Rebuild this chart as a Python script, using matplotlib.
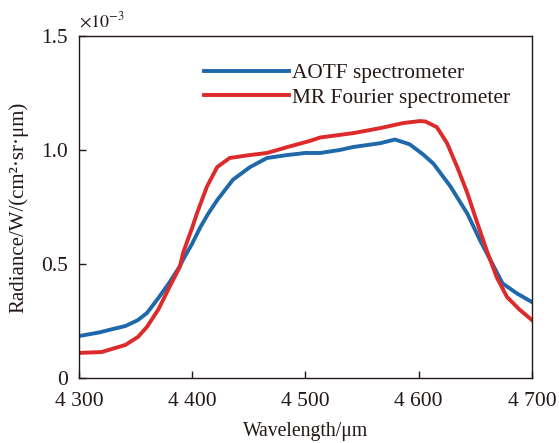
import matplotlib
matplotlib.use("Agg")
import matplotlib.pyplot as plt
import numpy as np

# AOTF spectrometer (radiance in 1e-3 W/(cm2 sr um))
wl_aotf = [4300, 4318, 4330, 4341, 4352, 4360, 4370, 4380, 4389, 4392, 4400,
           4407, 4414, 4422, 4436, 4451, 4466, 4484, 4500, 4513, 4530, 4542,
           4566, 4579, 4592, 4604, 4613, 4628, 4643, 4654, 4663, 4674, 4687, 4700]
rad_aotf = [0.184, 0.20, 0.215, 0.228, 0.254, 0.285, 0.35, 0.42, 0.49, 0.52, 0.59,
            0.66, 0.72, 0.78, 0.87, 0.925, 0.965, 0.978, 0.987, 0.987, 1.0, 1.013,
            1.03, 1.046, 1.025, 0.98, 0.94, 0.84, 0.72, 0.605, 0.52, 0.415, 0.37, 0.333]

# MR Fourier spectrometer
wl_mr = [4300, 4320, 4341, 4352, 4360, 4370, 4380, 4389, 4392, 4400, 4404,
         4413, 4422, 4433, 4451, 4466, 4484, 4504, 4513, 4542, 4566, 4586,
         4601, 4606, 4616, 4625, 4634, 4643, 4651, 4660, 4669, 4678, 4689, 4700]
rad_mr = [0.11, 0.114, 0.145, 0.18, 0.224, 0.30, 0.40, 0.487, 0.55, 0.66, 0.72,
          0.84, 0.925, 0.965, 0.978, 0.987, 1.013, 1.04, 1.055, 1.074, 1.096, 1.118,
          1.127, 1.125, 1.10, 1.03, 0.925, 0.81, 0.69, 0.56, 0.44, 0.355, 0.30, 0.254]

x_ticks = [4300, 4400, 4500, 4600, 4700]
x_labels = ['4 300', '4 400', '4 500', '4 600', '4 700']
y_ticks = [0, 0.5, 1.0, 1.5]
y_labels = ['0', '0.5', '1.0', '1.5']

plt.rcParams['font.family'] = ['Liberation Serif', 'DejaVu Serif']
plt.rcParams['mathtext.fontset'] = 'stix'

fig = plt.figure(figsize=(5.59, 4.43), dpi=100)
ax = fig.add_axes([0.1413, 0.1467, 0.8104, 0.772])

ax.plot(wl_aotf, rad_aotf, color='#1f69ab', lw=2.8, label='AOTF spectrometer')
ax.plot(wl_mr, rad_mr, color='#dd2a2a', lw=2.8, label='MR Fourier spectrometer')

ax.set_xlim(4300, 4700)
ax.set_ylim(0, 1.5)
ax.set_xticks(x_ticks)
ax.set_xticklabels(x_labels)
ax.set_yticks(y_ticks)
ax.set_yticklabels(y_labels)
ax.tick_params(direction='in', length=5, width=1, labelsize=15.5, colors='#231815')
ax.tick_params(axis='x', pad=10)
ax.tick_params(axis='y', pad=8)
for s in ax.spines.values():
    s.set_color('#231815')
    s.set_linewidth(1)

ax.set_xlabel('Wavelength/μm', fontsize=14.2, color='#231815', labelpad=8)
ax.set_ylabel('Radiance/W/(cm²·sr·μm)', fontsize=15, color='#231815', labelpad=9)
ax.text(0.0, 1.015, r'$\times10^{-3}$', transform=ax.transAxes, fontsize=13,
        color='#231815', ha='left', va='bottom')

leg = ax.legend(loc='upper left', bbox_to_anchor=(0.256, 0.945), frameon=False,
                fontsize=15.4, handlelength=4.0, handletextpad=0.15, labelspacing=0.2,
                borderaxespad=0)
for t in leg.get_texts():
    t.set_color('#231815')

fig.savefig('out.png', dpi=100)
